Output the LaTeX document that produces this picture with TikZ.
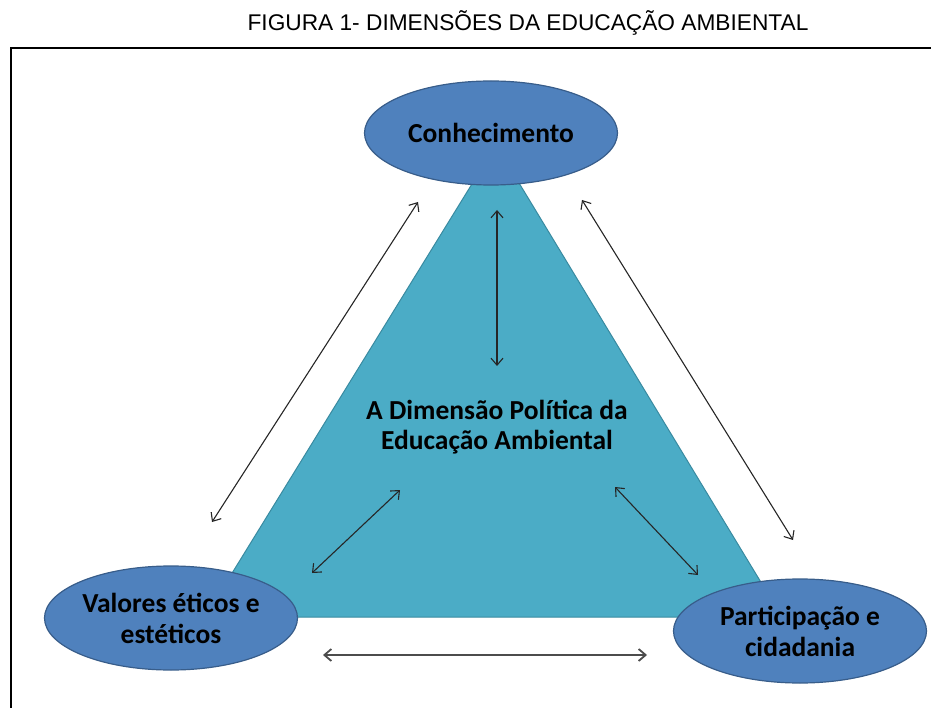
\documentclass[tikz,border=0pt]{standalone}
\usepackage{fontspec}
\setmainfont{Carlito}
\newfontfamily\titlefont{Liberation Sans}
\usetikzlibrary{shapes.geometric,arrows.meta}

\definecolor{dimblue}{RGB}{79,129,189}
\definecolor{dimedge}{RGB}{56,93,138}
\definecolor{trifill}{RGB}{75,172,198}
\definecolor{triedge}{RGB}{57,138,160}

\tikzset{
  dimension/.style={ellipse, draw=dimedge, fill=dimblue, line width=1.2pt,
    minimum width=253pt, minimum height=104pt, inner sep=0pt, align=center,
    font=\fontsize{27.5}{31}\selectfont\bfseries},
  link/.style={{Straight Barb[length=7pt,width=12pt]}-{Straight Barb[length=7pt,width=12pt]},
    line width=1.1pt, draw=black!85},
}

\begin{document}
\begin{tikzpicture}[x=1pt,y=-1pt]
  \useasboundingbox (0,0) rectangle (931,708);
  \node[font=\titlefont\fontsize{22.7}{26}\selectfont] (title) at (528,23)
    {FIGURA 1- DIMENSÕES DA EDUCAÇÃO AMBIENTAL};
  \draw[line width=2pt] (931,48) -- (11,48) -- (11,708);

  % triangulo
  \coordinate (topo) at (496,145);
  \coordinate (esq) at (205,617);
  \coordinate (dir) at (782,617);
  \draw[fill=trifill, draw=triedge, line width=1pt] (topo) -- (esq) -- (dir) -- cycle;
  \node[align=center, font=\fontsize{27.5}{30}\selectfont\bfseries] (politica) at (497,427)
    {A Dimensão Política da\\Educação Ambiental};

  \node[dimension] (conhecimento) at (491,133) {Conhecimento};
  \node[dimension] (valores) at (171,618) {Valores éticos e\\estéticos};
  \node[dimension] (participacao) at (800,631) {Participação e\\cidadania};

  % setas
  \coordinate (ve1) at (212,522);
  \coordinate (ce1) at (418,202);
  \coordinate (cd1) at (582,200);
  \coordinate (pd1) at (793,540);
  \coordinate (c2) at (497,210);
  \coordinate (m2) at (497,366);
  \coordinate (v3) at (312,573);
  \coordinate (m3) at (400,490);
  \coordinate (m4) at (615,487);
  \coordinate (p4) at (698,575);
  \coordinate (v5) at (323,655);
  \coordinate (p5) at (647,655);
  \begin{scope}[link]
    \draw (ve1) to (ce1);
    \draw (cd1) to (pd1);
    \draw (c2) to (m2);
    \draw (v3) to (m3);
    \draw (m4) to (p4);
    \draw[draw=black!70, line width=1.8pt] (v5) to (p5);
  \end{scope}
\end{tikzpicture}
\end{document}
